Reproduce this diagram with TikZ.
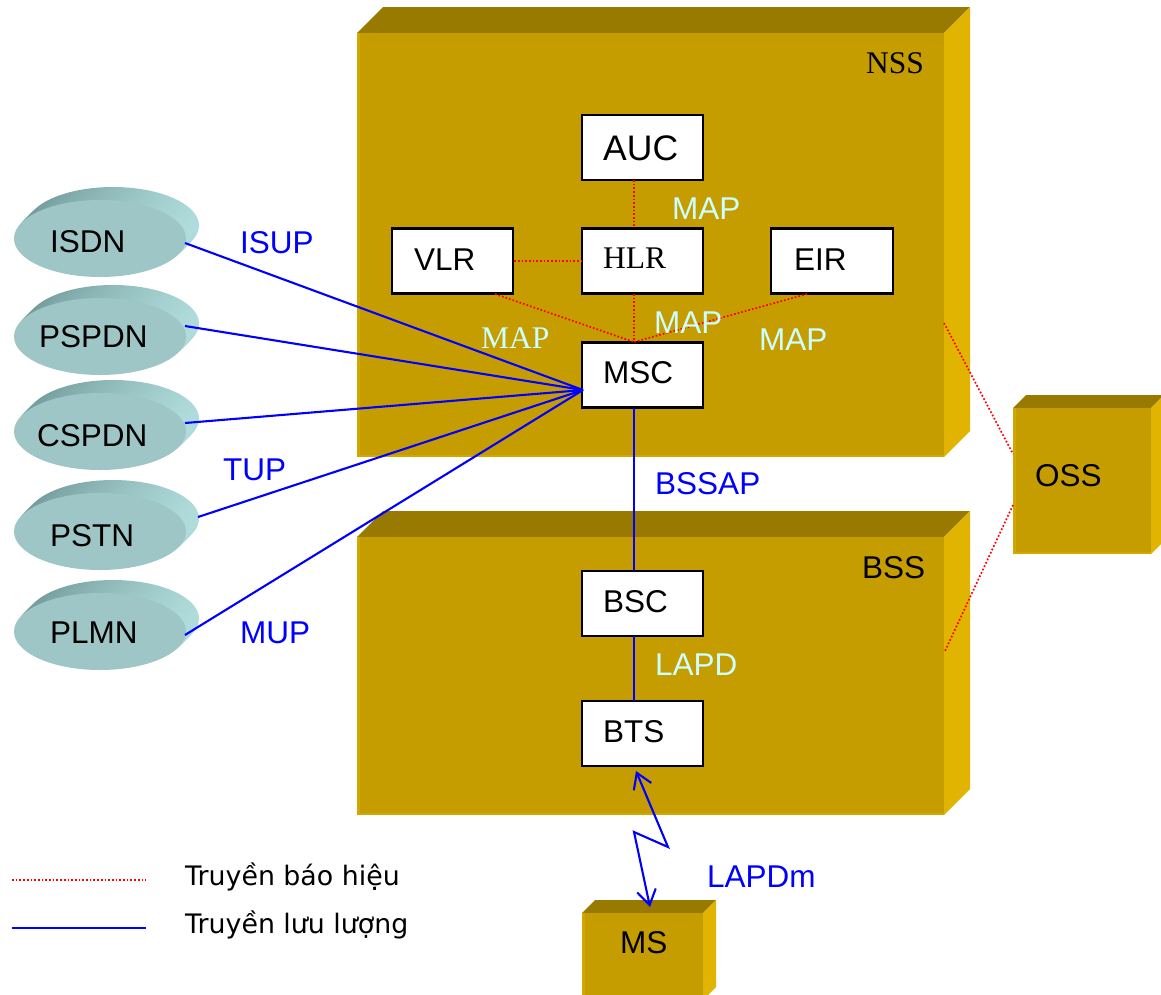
\documentclass[tikz,border=0pt]{standalone}
\usepackage{fontspec}
\setmainfont{Liberation Sans}
\newfontfamily\seriffont{Liberation Serif}
\newfontfamily\legendfont{DejaVu Sans}
\usetikzlibrary{arrows.meta}

\definecolor{boxfront}{RGB}{197,157,0}
\definecolor{boxedge}{RGB}{210,168,0}
\definecolor{boxtop}{RGB}{152,122,0}
\definecolor{boxside}{RGB}{224,180,0}
\definecolor{ellfront}{RGB}{158,198,198}
\definecolor{elldark}{RGB}{112,152,152}
\definecolor{ellmid}{RGB}{128,168,168}
\definecolor{elllight}{RGB}{176,220,220}
\definecolor{mapcyan}{RGB}{204,255,255}
\definecolor{sigred}{RGB}{255,0,0}
\definecolor{trblue}{RGB}{0,0,255}

% x1 y1 x2 y2 depth  (front face, y downward)
\newcommand\mycuboid[5]{%
  \fill[boxtop] (#1,#2) -- (#1+#5,#2-#5) -- (#3+#5,#2-#5) -- (#3,#2) -- cycle;
  \fill[boxside] (#3,#2) -- (#3+#5,#2-#5) -- (#3+#5,#4-#5) -- (#3,#4) -- cycle;
  \fill[boxfront] (#1,#2) rectangle (#3,#4);
  \fill[boxedge] (#1,#2) rectangle (#1+3,#4);
  \fill[boxedge] (#1,#4-2) rectangle (#3,#4);
}
% cx cy
\newcommand\mydisc[2]{%
  \foreach \k in {13,12,...,1}{%
    \shade[left color=elldark, middle color=ellmid, right color=elllight] (#1+\k,#2-\k) ellipse [x radius=86pt, y radius=38.5pt];
  }%
  \fill[ellfront] (#1,#2) ellipse [x radius=86pt, y radius=38.5pt];
}

\tikzset{
  wbox/.style={draw=black, line width=2.3pt, fill=white, minimum width=121pt, minimum height=65pt, inner sep=0pt},
  sig/.style={draw=sigred, line width=1.7pt, dash pattern=on 1.7pt off 2pt},
  tr/.style={draw=trblue, line width=2.1pt},
  lbl/.style={anchor=base west, inner sep=0pt, font=\fontsize{31.5}{36}\selectfont},
  maplbl/.style={lbl, text=mapcyan},
  bluelbl/.style={lbl, text=trblue},
  leglbl/.style={anchor=base west, inner sep=0pt, font=\legendfont\fontsize{26.8}{30}\selectfont},
  bothbarbs/.style={{Straight Barb[length=15pt,width=19pt]}-{Straight Barb[length=15pt,width=19pt]}}
}

\begin{document}
\begin{tikzpicture}[x=1pt,y=-1pt]
\useasboundingbox (0,0) rectangle (1161,994);

% 3D blocks
\mycuboid{357}{33}{944}{457}{26}
\mycuboid{357}{537}{944}{815}{26}
\mycuboid{1013}{408}{1151}{554}{13}
\mycuboid{582}{913}{703}{1000}{13}

% discs
\mydisc{100}{238.5}
\mydisc{100}{336.5}
\mydisc{100}{431.5}
\mydisc{100}{531.5}
\mydisc{100}{631.5}

% white boxes
\node[wbox] (auc) at (642.5,147.5) {};
\node[wbox] (vlr) at (452.5,261) {};
\node[wbox] (hlr) at (642.5,261) {};
\node[wbox, minimum width=122pt] (eir) at (832,261) {};
\node[wbox] (msc) at (642.5,375) {};
\node[wbox] (bsc) at (642.5,603.5) {};
\node[wbox] (bts) at (642.5,733.5) {};

% connector coordinates
\coordinate (isdnP) at (185,243);
\coordinate (pspdnP) at (185,326);
\coordinate (cspdnP) at (185,423);
\coordinate (pstnP) at (198,517);
\coordinate (plmnP) at (185,635);
\coordinate (mscIn) at (583,390);
\coordinate (mscTop) at (634,342);
\coordinate (mscBot) at (634,408);
\coordinate (aucBot) at (634,180);
\coordinate (hlrTop) at (634,228);
\coordinate (hlrBot) at (634,294);
\coordinate (vlrBot) at (495,294);
\coordinate (eirBot) at (807,294);
\coordinate (bscTop) at (634,571);
\coordinate (bscBot) at (634,636);
\coordinate (btsTop) at (634,701);
\coordinate (nssSide) at (944,323);
\coordinate (ossUp) at (1013,454);
\coordinate (ossLow) at (1013,505);
\coordinate (bssSide) at (945,651);
\coordinate (ltA) at (636,771);
\coordinate (ltB) at (668,847);
\coordinate (ltC) at (634,832);
\coordinate (ltD) at (650,907);
\coordinate (legRa) at (12,880);
\coordinate (legRb) at (146,880);
\coordinate (legBa) at (12,928);
\coordinate (legBb) at (146,928);

% signalling (red dotted)
\draw[sig] (aucBot) -- (hlrTop);
\draw[sig] (vlr.east) -- (hlr.west);
\draw[sig] (vlrBot) -- (mscTop);
\draw[sig] (hlrBot) -- (mscTop);
\draw[sig] (eirBot) -- (mscTop);
\draw[sig] (nssSide) -- (ossUp);
\draw[sig] (ossLow) -- (bssSide);

% traffic (blue)
\draw[tr] (isdnP) -- (mscIn);
\draw[tr] (pspdnP) -- (mscIn);
\draw[tr] (cspdnP) -- (mscIn);
\draw[tr] (pstnP) -- (mscIn);
\draw[tr] (plmnP) -- (mscIn);
\draw[tr] (mscBot) -- (bscTop);
\draw[tr] (bscBot) -- (btsTop);
\draw[tr, bothbarbs] (ltA) -- (ltB) -- (ltC) -- (ltD);

% legend
\draw[sig] (legRa) -- (legRb);
\draw[tr] (legBa) -- (legBb);
\node[leglbl] (legR) at (185,885) {Truyền báo hiệu};
\node[leglbl] (legB) at (185,933) {Truyền lưu lượng};

% disc labels
\node[lbl] (isdnT) at (50,252) {ISDN};
\node[lbl] (pspdnT) at (39,347) {PSPDN};
\node[lbl] (cspdnT) at (37,446) {CSPDN};
\node[lbl] (pstnT) at (50,546) {PSTN};
\node[lbl] (plmnT) at (50,643) {PLMN};

% box labels
\node[lbl, font=\fontsize{35.5}{40}\selectfont] (aucT) at (603,160) {AUC};
\node[lbl] (vlrT) at (414,270) {VLR};
\node[lbl, font=\seriffont\fontsize{31.5}{36}\selectfont] (hlrT) at (603,268) {HLR};
\node[lbl] (eirT) at (794,270) {EIR};
\node[lbl] (mscT) at (603,383) {MSC};
\node[lbl] (bscT) at (603,612) {BSC};
\node[lbl] (btsT) at (603,742) {BTS};
\node[lbl] (nssT) at (866,73) {\seriffont NSS};
\node[lbl] (bssT) at (862,578) {BSS};
\node[lbl] (ossT) at (1035,486) {OSS};
\node[lbl] (msT) at (620,953) {MS};

% protocol labels
\node[maplbl] (map1) at (672,219) {MAP};
\node[maplbl, font=\seriffont\fontsize{31.5}{36}\selectfont] (map2) at (481,348) {MAP};
\node[maplbl] (map3) at (654,333) {MAP};
\node[maplbl] (map4) at (759,350) {MAP};
\node[maplbl] (lapd) at (655,675) {LAPD};
\node[bluelbl] (isup) at (240,253) {ISUP};
\node[bluelbl] (tup) at (223,480) {TUP};
\node[bluelbl] (mup) at (240,643) {MUP};
\node[bluelbl] (bssap) at (655,494) {BSSAP};
\node[bluelbl] (lapdm) at (707,887) {LAPDm};
\end{tikzpicture}
\end{document}
